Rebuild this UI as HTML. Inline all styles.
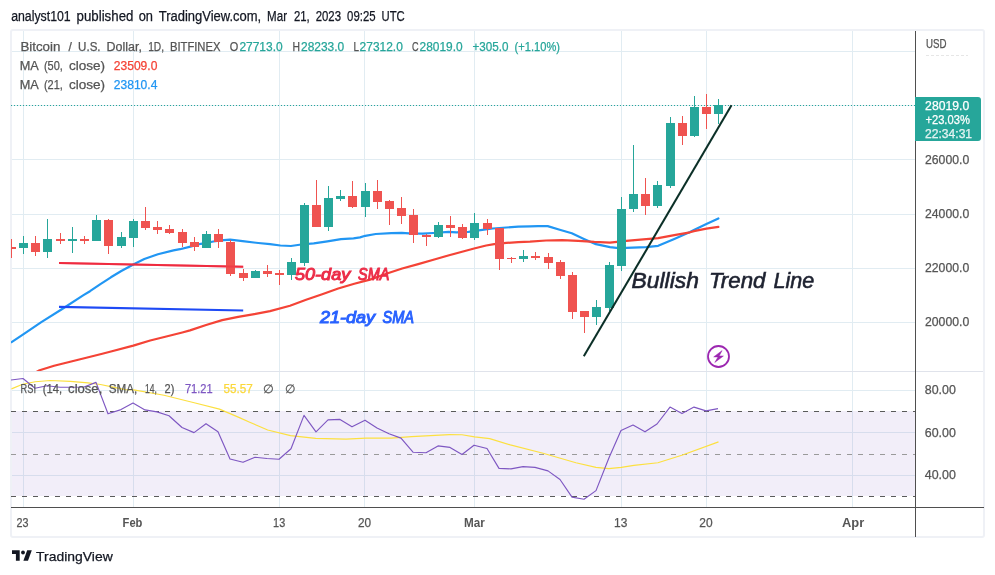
<!DOCTYPE html>
<html lang="en"><head><meta charset="utf-8"><title>BTCUSD chart - TradingView</title>
<style>
html,body{margin:0;padding:0;background:#fff;}
#page{position:relative;width:995px;height:575px;overflow:hidden;background:#fff;font-family:"Liberation Sans",sans-serif;}
svg{position:absolute;left:0;top:0;display:block}
text{font-family:"Liberation Sans",sans-serif;}
.crisp{shape-rendering:crispEdges}
</style></head><body>
<div id="page">
<svg width="995" height="575" viewBox="0 0 995 575">
<rect x="11" y="30" width="973" height="507" rx="2" fill="#fff" stroke="#eff1f6" stroke-width="2"/>
<defs><clipPath id="main"><rect x="11" y="31" width="904" height="340"/></clipPath>
<clipPath id="rsi"><rect x="11" y="372" width="904" height="135"/></clipPath></defs>
<g class="crisp" fill="#e1ecf2">
<rect x="23" y="31" width="1" height="476"/>
<rect x="133" y="31" width="1" height="476"/>
<rect x="279" y="31" width="1" height="476"/>
<rect x="364" y="31" width="1" height="476"/>
<rect x="474" y="31" width="1" height="476"/>
<rect x="621" y="31" width="1" height="476"/>
<rect x="706" y="31" width="1" height="476"/>
<rect x="852" y="31" width="1" height="476"/>
<rect x="12" y="51" width="903" height="1"/>
<rect x="12" y="105" width="903" height="1"/>
<rect x="12" y="159" width="903" height="1"/>
<rect x="12" y="214" width="903" height="1"/>
<rect x="12" y="268" width="903" height="1"/>
<rect x="12" y="322" width="903" height="1"/>
<rect x="12" y="390" width="903" height="1"/>
<rect x="12" y="432" width="903" height="1"/>
<rect x="12" y="475" width="903" height="1"/>
</g>
<rect x="12" y="371" width="971" height="1" fill="#e0e3eb" class="crisp"/>
<rect x="12" y="411" width="903" height="85" fill="#7e57c2" fill-opacity="0.1" class="crisp"/>
<g fill="none" stroke-width="1" class="crisp">
<line x1="11" y1="411.5" x2="915" y2="411.5" stroke="#5a5a5a" stroke-dasharray="5 6"/>
<line x1="11" y1="454.5" x2="915" y2="454.5" stroke="#9a9a9a" stroke-dasharray="5 6"/>
<line x1="11" y1="496.5" x2="915" y2="496.5" stroke="#5a5a5a" stroke-dasharray="5 6"/>
</g>
<g clip-path="url(#main)">
<line x1="11" y1="105.5" x2="915" y2="105.5" stroke="#26a69a" stroke-width="1" stroke-dasharray="1 2" class="crisp"/>
<path d="M11.6 342.2 L23.6 334.1 L41.3 322.1 L62.2 309.0 L83.1 295.4 L90.0 291.2 L100.4 284.1 L110.9 277.3 L121.3 271.0 L133.8 264.2 L144.3 259.0 L157.9 254.3 L173.5 250.4 L180.0 249.2 L190.4 246.6 L200.9 243.8 L213.4 241.5 L223.8 240.1 L230.1 239.6 L242.6 241.2 L258.3 243.0 L270.0 244.2 L280.4 245.5 L290.9 246.0 L301.3 244.5 L313.8 243.4 L327.4 241.3 L341.0 239.2 L353.5 238.3 L360.0 237.4 L365.2 235.8 L375.7 234.0 L391.3 233.2 L401.8 232.9 L409.1 233.4 L422.6 233.7 L433.1 233.0 L448.7 231.9 L456.4 232.4 L468.5 231.8 L480.5 230.1 L492.6 228.5 L506.3 227.5 L518.3 226.7 L530.0 226.4 L538.0 226.1 L547.7 226.1 L559.7 229.7 L571.8 233.3 L583.9 238.9 L595.9 244.2 L610.0 247.2 L616.4 247.8 L626.1 247.8 L646.2 247.1 L658.2 245.8 L674.3 238.9 L690.0 231.9 L693.9 230.0 L706.4 224.1 L718.4 218.4" fill="none" stroke="#2196f3" stroke-width="2.2" stroke-linejoin="round" stroke-linecap="round"/>
<path d="M36.0 372.2 L39.6 370.2 L54.1 365.8 L70.2 361.8 L86.3 357.7 L102.3 353.7 L110.0 351.8 L133.3 345.6 L150.2 340.5 L166.3 336.5 L182.3 332.5 L190.0 330.4 L206.1 325.0 L222.2 320.1 L238.2 316.9 L254.3 314.1 L270.0 311.1 L290.0 305.8 L306.1 299.8 L322.2 294.2 L338.2 288.5 L354.3 283.7 L370.0 279.6 L388.5 273.0 L402.2 268.5 L418.2 264.1 L434.3 259.5 L450.0 255.0 L462.1 251.8 L474.1 248.5 L486.2 245.5 L494.2 244.1 L506.3 242.9 L518.3 242.1 L530.0 241.7 L546.1 240.5 L562.2 240.1 L578.2 240.8 L594.3 241.9 L610.0 242.6 L626.1 240.9 L646.2 239.1 L658.2 238.1 L674.3 235.1 L690.0 232.3 L693.9 231.1 L706.4 228.6 L718.4 226.8" fill="none" stroke="#f44336" stroke-width="2.2" stroke-linejoin="round" stroke-linecap="round"/>
<line x1="59" y1="263.1" x2="243.2" y2="266.8" stroke="#ef2b40" stroke-width="2"/>
<g class="crisp">
<rect x="11" y="239" width="1" height="19" fill="#ef5350"/>
<rect x="7" y="247" width="9" height="2" fill="#ef5350"/>
<rect x="23" y="236" width="1" height="18" fill="#26a69a"/>
<rect x="19" y="243" width="9" height="5" fill="#26a69a"/>
<rect x="35" y="236" width="1" height="20" fill="#ef5350"/>
<rect x="31" y="243" width="9" height="9" fill="#ef5350"/>
<rect x="47" y="219" width="1" height="39" fill="#26a69a"/>
<rect x="43" y="239" width="9" height="13" fill="#26a69a"/>
<rect x="60" y="233" width="1" height="11" fill="#ef5350"/>
<rect x="56" y="239" width="9" height="2" fill="#ef5350"/>
<rect x="72" y="227" width="1" height="26" fill="#26a69a"/>
<rect x="68" y="239" width="9" height="2" fill="#26a69a"/>
<rect x="84" y="236" width="1" height="8" fill="#ef5350"/>
<rect x="80" y="239" width="9" height="2" fill="#ef5350"/>
<rect x="96" y="215" width="1" height="26" fill="#26a69a"/>
<rect x="92" y="220" width="9" height="21" fill="#26a69a"/>
<rect x="108" y="219" width="1" height="35" fill="#ef5350"/>
<rect x="104" y="220" width="9" height="26" fill="#ef5350"/>
<rect x="121" y="232" width="1" height="16" fill="#26a69a"/>
<rect x="117" y="237" width="9" height="9" fill="#26a69a"/>
<rect x="133" y="219" width="1" height="28" fill="#26a69a"/>
<rect x="129" y="221" width="9" height="17" fill="#26a69a"/>
<rect x="145" y="207" width="1" height="23" fill="#ef5350"/>
<rect x="141" y="221" width="9" height="7" fill="#ef5350"/>
<rect x="157" y="221" width="1" height="13" fill="#ef5350"/>
<rect x="153" y="227" width="9" height="3" fill="#ef5350"/>
<rect x="169" y="225" width="1" height="9" fill="#ef5350"/>
<rect x="165" y="229" width="9" height="4" fill="#ef5350"/>
<rect x="182" y="229" width="1" height="18" fill="#ef5350"/>
<rect x="178" y="232" width="9" height="11" fill="#ef5350"/>
<rect x="194" y="237" width="1" height="14" fill="#ef5350"/>
<rect x="190" y="242" width="9" height="5" fill="#ef5350"/>
<rect x="206" y="231" width="1" height="17" fill="#26a69a"/>
<rect x="202" y="234" width="9" height="14" fill="#26a69a"/>
<rect x="218" y="229" width="1" height="19" fill="#ef5350"/>
<rect x="214" y="234" width="9" height="8" fill="#ef5350"/>
<rect x="230" y="240" width="1" height="36" fill="#ef5350"/>
<rect x="226" y="242" width="9" height="32" fill="#ef5350"/>
<rect x="243" y="269" width="1" height="12" fill="#ef5350"/>
<rect x="239" y="273" width="9" height="5" fill="#ef5350"/>
<rect x="255" y="270" width="1" height="8" fill="#26a69a"/>
<rect x="251" y="271" width="9" height="7" fill="#26a69a"/>
<rect x="267" y="265" width="1" height="12" fill="#ef5350"/>
<rect x="263" y="271" width="9" height="3" fill="#ef5350"/>
<rect x="279" y="270" width="1" height="15" fill="#ef5350"/>
<rect x="275" y="273" width="9" height="2" fill="#ef5350"/>
<rect x="291" y="258" width="1" height="22" fill="#26a69a"/>
<rect x="287" y="262" width="9" height="13" fill="#26a69a"/>
<rect x="304" y="203" width="1" height="63" fill="#26a69a"/>
<rect x="300" y="205" width="9" height="58" fill="#26a69a"/>
<rect x="316" y="180" width="1" height="47" fill="#ef5350"/>
<rect x="312" y="205" width="9" height="22" fill="#ef5350"/>
<rect x="328" y="186" width="1" height="45" fill="#26a69a"/>
<rect x="324" y="198" width="9" height="29" fill="#26a69a"/>
<rect x="340" y="190" width="1" height="11" fill="#26a69a"/>
<rect x="336" y="196" width="9" height="3" fill="#26a69a"/>
<rect x="352" y="181" width="1" height="27" fill="#ef5350"/>
<rect x="348" y="196" width="9" height="11" fill="#ef5350"/>
<rect x="365" y="183" width="1" height="34" fill="#26a69a"/>
<rect x="361" y="191" width="9" height="16" fill="#26a69a"/>
<rect x="377" y="180" width="1" height="29" fill="#ef5350"/>
<rect x="373" y="191" width="9" height="11" fill="#ef5350"/>
<rect x="389" y="200" width="1" height="25" fill="#ef5350"/>
<rect x="385" y="201" width="9" height="8" fill="#ef5350"/>
<rect x="401" y="197" width="1" height="27" fill="#ef5350"/>
<rect x="397" y="208" width="9" height="8" fill="#ef5350"/>
<rect x="413" y="209" width="1" height="34" fill="#ef5350"/>
<rect x="409" y="215" width="9" height="20" fill="#ef5350"/>
<rect x="426" y="234" width="1" height="12" fill="#ef5350"/>
<rect x="422" y="235" width="9" height="2" fill="#ef5350"/>
<rect x="438" y="222" width="1" height="16" fill="#26a69a"/>
<rect x="434" y="225" width="9" height="12" fill="#26a69a"/>
<rect x="450" y="216" width="1" height="21" fill="#ef5350"/>
<rect x="446" y="225" width="9" height="3" fill="#ef5350"/>
<rect x="462" y="224" width="1" height="15" fill="#ef5350"/>
<rect x="458" y="227" width="9" height="11" fill="#ef5350"/>
<rect x="474" y="213" width="1" height="27" fill="#26a69a"/>
<rect x="470" y="223" width="9" height="15" fill="#26a69a"/>
<rect x="487" y="219" width="1" height="16" fill="#ef5350"/>
<rect x="483" y="223" width="9" height="6" fill="#ef5350"/>
<rect x="499" y="228" width="1" height="42" fill="#ef5350"/>
<rect x="495" y="228" width="9" height="31" fill="#ef5350"/>
<rect x="511" y="257" width="1" height="6" fill="#ef5350"/>
<rect x="507" y="258" width="9" height="1" fill="#ef5350"/>
<rect x="523" y="250" width="1" height="12" fill="#26a69a"/>
<rect x="519" y="256" width="9" height="3" fill="#26a69a"/>
<rect x="535" y="252" width="1" height="8" fill="#ef5350"/>
<rect x="531" y="256" width="9" height="2" fill="#ef5350"/>
<rect x="548" y="253" width="1" height="16" fill="#ef5350"/>
<rect x="544" y="257" width="9" height="6" fill="#ef5350"/>
<rect x="560" y="260" width="1" height="19" fill="#ef5350"/>
<rect x="556" y="262" width="9" height="14" fill="#ef5350"/>
<rect x="572" y="272" width="1" height="47" fill="#ef5350"/>
<rect x="568" y="275" width="9" height="37" fill="#ef5350"/>
<rect x="584" y="311" width="1" height="22" fill="#ef5350"/>
<rect x="580" y="311" width="9" height="6" fill="#ef5350"/>
<rect x="596" y="300" width="1" height="25" fill="#26a69a"/>
<rect x="592" y="307" width="9" height="10" fill="#26a69a"/>
<rect x="609" y="262" width="1" height="49" fill="#26a69a"/>
<rect x="605" y="265" width="9" height="43" fill="#26a69a"/>
<rect x="621" y="197" width="1" height="74" fill="#26a69a"/>
<rect x="617" y="209" width="9" height="57" fill="#26a69a"/>
<rect x="633" y="145" width="1" height="67" fill="#26a69a"/>
<rect x="629" y="194" width="9" height="15" fill="#26a69a"/>
<rect x="645" y="178" width="1" height="37" fill="#ef5350"/>
<rect x="641" y="194" width="9" height="12" fill="#ef5350"/>
<rect x="657" y="181" width="1" height="27" fill="#26a69a"/>
<rect x="653" y="185" width="9" height="21" fill="#26a69a"/>
<rect x="670" y="117" width="1" height="71" fill="#26a69a"/>
<rect x="666" y="123" width="9" height="63" fill="#26a69a"/>
<rect x="682" y="116" width="1" height="29" fill="#ef5350"/>
<rect x="678" y="123" width="9" height="13" fill="#ef5350"/>
<rect x="694" y="96" width="1" height="41" fill="#26a69a"/>
<rect x="690" y="107" width="9" height="29" fill="#26a69a"/>
<rect x="706" y="94" width="1" height="35" fill="#ef5350"/>
<rect x="702" y="107" width="9" height="7" fill="#ef5350"/>
<rect x="718" y="99" width="1" height="25" fill="#26a69a"/>
<rect x="714" y="105" width="9" height="9" fill="#26a69a"/>
</g>
<line x1="59" y1="263.1" x2="243.2" y2="266.8" stroke="#ef2b40" stroke-width="2" stroke-opacity="0.55"/>
<line x1="59" y1="306.9" x2="243.2" y2="310.5" stroke="#1e4af5" stroke-width="2.1"/>
<line x1="583.8" y1="356.3" x2="731.5" y2="105.3" stroke="#0b2f27" stroke-width="2.05"/>
</g>
<g clip-path="url(#rsi)">
<path d="M11.5 388.9 L22.6 384.2 L35.2 381.7 L50.3 380.5 L70.4 381.4 L88.0 382.9 L100.5 384.5 L113.0 387.1 L125.0 389.6 L133.7 389.9 L164.0 395.2 L194.2 402.8 L219.5 409.1 L240.0 417.9 L249.7 422.3 L267.7 430.0 L290.5 435.6 L315.7 438.4 L346.0 439.1 L366.1 438.1 L391.4 438.1 L411.5 436.6 L449.4 434.6 L462.0 434.8 L474.6 436.9 L489.7 438.6 L510.3 444.9 L543.1 453.2 L575.9 462.8 L596.0 467.4 L608.7 468.6 L621.3 467.4 L633.9 465.4 L657.9 462.8 L681.8 455.3 L718.5 441.9" fill="none" stroke="#fce040" stroke-width="1.15" stroke-linejoin="round"/>
<path d="M11.0 380.0 L23.0 378.5 L35.0 388.3 L47.0 385.8 L60.0 387.3 L72.0 387.2 L84.0 387.0 L96.0 382.4 L108.0 413.8 L121.0 409.6 L133.0 403.0 L145.0 409.9 L157.0 411.9 L169.0 415.7 L182.0 427.5 L194.0 432.6 L206.0 423.7 L218.0 431.8 L230.0 459.0 L243.0 462.3 L255.0 457.3 L267.0 458.5 L279.0 459.3 L291.0 448.7 L304.0 415.4 L316.0 431.8 L328.0 419.9 L340.0 419.4 L352.0 426.8 L365.0 420.2 L377.0 428.0 L389.0 433.8 L401.0 438.1 L413.0 452.2 L426.0 452.7 L438.0 445.9 L450.0 447.4 L462.0 454.5 L474.0 445.2 L487.0 448.5 L499.0 468.4 L511.0 468.9 L523.0 466.6 L535.0 467.4 L548.0 470.9 L560.0 479.5 L572.0 497.1 L584.0 499.2 L596.0 490.6 L609.0 457.8 L621.0 430.5 L633.0 425.0 L645.0 431.8 L657.0 424.0 L670.0 407.1 L682.0 413.6 L694.0 407.1 L706.0 410.9 L718.0 408.6" fill="none" stroke="#7e57c2" stroke-width="1.15" stroke-linejoin="round"/>
</g>
<g><circle cx="718.5" cy="356.5" r="10.5" fill="#fff" stroke="#9c27b0" stroke-width="1.8"/>
<polygon points="722.1,350.6 713.7,356.9 718.0,357.0 714.8,362.4 723.4,356.0 719.2,355.9" fill="#9c27b0" stroke="#9c27b0" stroke-width="0.5" stroke-linejoin="round"/></g>
<g class="crisp" fill="#4f4f4f">
<rect x="915" y="31" width="1" height="506"/>
<rect x="11" y="507" width="973" height="1"/>
</g>
<path d="M915 97 H978 a3 3 0 0 1 3 3 V138 a3 3 0 0 1 -3 3 H915 Z" fill="#26a69a"/>
<text y="20.5" font-size="14" fill="#131722" stroke="#131722" stroke-width="0.25"><tspan x="11.2" textLength="59.5" lengthAdjust="spacingAndGlyphs">analyst101</tspan> <tspan x="76.6" textLength="56.8" lengthAdjust="spacingAndGlyphs">published</tspan> <tspan x="138.7" textLength="14.3" lengthAdjust="spacingAndGlyphs">on</tspan> <tspan x="158.7" textLength="102.5" lengthAdjust="spacingAndGlyphs">TradingView.com,</tspan> <tspan x="267.1" textLength="19.9" lengthAdjust="spacingAndGlyphs">Mar</tspan> <tspan x="293.9" textLength="15.8" lengthAdjust="spacingAndGlyphs">21,</tspan> <tspan x="315.7" textLength="25.3" lengthAdjust="spacingAndGlyphs">2023</tspan> <tspan x="347.1" textLength="28.5" lengthAdjust="spacingAndGlyphs">09:25</tspan> <tspan x="381.5" textLength="23.2" lengthAdjust="spacingAndGlyphs">UTC</tspan></text>
<text y="50.5" font-size="12" fill="#555555" stroke="#555555" stroke-width="0.25"><tspan x="20.4" textLength="40.0" lengthAdjust="spacingAndGlyphs">Bitcoin</tspan> <tspan x="68.6">/</tspan> <tspan x="78.1" textLength="22.5" lengthAdjust="spacingAndGlyphs">U.S.</tspan> <tspan x="106.6" textLength="35.4" lengthAdjust="spacingAndGlyphs">Dollar,</tspan> <tspan x="148.2" textLength="15.9" lengthAdjust="spacingAndGlyphs">1D,</tspan> <tspan x="169.9" textLength="50.6" lengthAdjust="spacingAndGlyphs">BITFINEX</tspan></text>
<text x="229.7" y="50.5" font-size="12" fill="#555555" stroke="#555555" stroke-width="0.25" textLength="8.5" lengthAdjust="spacingAndGlyphs" >O</text>
<text x="239.4" y="50.5" font-size="12" fill="#26a69a" stroke="#26a69a" stroke-width="0.25" textLength="43.3" lengthAdjust="spacingAndGlyphs" >27713.0</text>
<text x="292.4" y="50.5" font-size="12" fill="#555555" stroke="#555555" stroke-width="0.25" textLength="7.5" lengthAdjust="spacingAndGlyphs" >H</text>
<text x="301" y="50.5" font-size="12" fill="#26a69a" stroke="#26a69a" stroke-width="0.25" textLength="43.2" lengthAdjust="spacingAndGlyphs" >28233.0</text>
<text x="353.4" y="50.5" font-size="12" fill="#555555" stroke="#555555" stroke-width="0.25" textLength="5.5" lengthAdjust="spacingAndGlyphs" >L</text>
<text x="359.6" y="50.5" font-size="12" fill="#26a69a" stroke="#26a69a" stroke-width="0.25" textLength="43.2" lengthAdjust="spacingAndGlyphs" >27312.0</text>
<text x="412.1" y="50.5" font-size="12" fill="#555555" stroke="#555555" stroke-width="0.25" textLength="6.6" lengthAdjust="spacingAndGlyphs" >C</text>
<text x="419.6" y="50.5" font-size="12" fill="#26a69a" stroke="#26a69a" stroke-width="0.25" textLength="43.1" lengthAdjust="spacingAndGlyphs" >28019.0</text>
<text x="472.4" y="50.5" font-size="12" fill="#26a69a" stroke="#26a69a" stroke-width="0.25" textLength="36" lengthAdjust="spacingAndGlyphs" >+305.0</text>
<text x="514.6" y="50.5" font-size="12" fill="#26a69a" stroke="#26a69a" stroke-width="0.25" textLength="45.4" lengthAdjust="spacingAndGlyphs" >(+1.10%)</text>
<text y="69.5" font-size="12" fill="#555555" stroke="#555555" stroke-width="0.25"><tspan x="19.7" textLength="18.4" lengthAdjust="spacingAndGlyphs">MA</tspan> <tspan x="43.9" textLength="18.9" lengthAdjust="spacingAndGlyphs">(50,</tspan> <tspan x="68.9" textLength="36.1" lengthAdjust="spacingAndGlyphs">close)</tspan></text>
<text x="113.8" y="69.5" font-size="12" fill="#f44336" stroke="#f44336" stroke-width="0.25" textLength="43.6" lengthAdjust="spacingAndGlyphs" >23509.0</text>
<text y="88.5" font-size="12" fill="#555555" stroke="#555555" stroke-width="0.25"><tspan x="19.7" textLength="18.4" lengthAdjust="spacingAndGlyphs">MA</tspan> <tspan x="43.9" textLength="18.9" lengthAdjust="spacingAndGlyphs">(21,</tspan> <tspan x="68.9" textLength="36.1" lengthAdjust="spacingAndGlyphs">close)</tspan></text>
<text x="113.8" y="88.5" font-size="12" fill="#2196f3" stroke="#2196f3" stroke-width="0.25" textLength="43.6" lengthAdjust="spacingAndGlyphs" >23810.4</text>
<text y="392.5" font-size="12" fill="#555555" stroke="#555555" stroke-width="0.25"><tspan x="20.6" textLength="15.4" lengthAdjust="spacingAndGlyphs">RSI</tspan> <tspan x="42.8" textLength="19.3" lengthAdjust="spacingAndGlyphs">(14,</tspan> <tspan x="68.1" textLength="34.2" lengthAdjust="spacingAndGlyphs">close,</tspan> <tspan x="108.8" textLength="28.5" lengthAdjust="spacingAndGlyphs">SMA,</tspan> <tspan x="145.0" textLength="11.9" lengthAdjust="spacingAndGlyphs">14,</tspan> <tspan x="164.6" textLength="9.8" lengthAdjust="spacingAndGlyphs">2)</tspan></text>
<text x="184.9" y="392.5" font-size="12" fill="#7e57c2" stroke="#7e57c2" stroke-width="0.25" textLength="27.7" lengthAdjust="spacingAndGlyphs" >71.21</text>
<text x="223.4" y="392.5" font-size="12" fill="#fbd83c" stroke="#fbd83c" stroke-width="0.25" textLength="29.3" lengthAdjust="spacingAndGlyphs" >55.57</text>
<text x="262.6" y="392.5" font-size="12" fill="#555555" stroke="#555555" stroke-width="0.25" textLength="10.3" lengthAdjust="spacingAndGlyphs" >∅</text>
<text x="285" y="392.5" font-size="12" fill="#555555" stroke="#555555" stroke-width="0.25" textLength="10" lengthAdjust="spacingAndGlyphs" >∅</text>
<text x="926" y="47.6" font-size="12" fill="#555555" stroke="#555555" stroke-width="0.25" textLength="20.5" lengthAdjust="spacingAndGlyphs" >USD</text>
<line x1="926" y1="55.5" x2="968" y2="55.5" stroke="#e6e6e6" stroke-width="1" stroke-dasharray="3 2"/>
<text x="925" y="163.8" font-size="12" fill="#555555" stroke="#555555" stroke-width="0.25" textLength="44.2" lengthAdjust="spacingAndGlyphs" >26000.0</text>
<text x="925" y="217.9" font-size="12" fill="#555555" stroke="#555555" stroke-width="0.25" textLength="44.2" lengthAdjust="spacingAndGlyphs" >24000.0</text>
<text x="925" y="272" font-size="12" fill="#555555" stroke="#555555" stroke-width="0.25" textLength="44.2" lengthAdjust="spacingAndGlyphs" >22000.0</text>
<text x="925" y="326.2" font-size="12" fill="#555555" stroke="#555555" stroke-width="0.25" textLength="44.2" lengthAdjust="spacingAndGlyphs" >20000.0</text>
<text x="924.8" y="393.7" font-size="12" fill="#555555" stroke="#555555" stroke-width="0.25" textLength="31.1" lengthAdjust="spacingAndGlyphs" >80.00</text>
<text x="924.8" y="436.6" font-size="12" fill="#555555" stroke="#555555" stroke-width="0.25" textLength="31.1" lengthAdjust="spacingAndGlyphs" >60.00</text>
<text x="924.8" y="478.9" font-size="12" fill="#555555" stroke="#555555" stroke-width="0.25" textLength="31.1" lengthAdjust="spacingAndGlyphs" >40.00</text>
<text x="925.1" y="109.7" font-size="12" fill="#fff" stroke="#fff" stroke-width="0.25" textLength="44.1" lengthAdjust="spacingAndGlyphs" >28019.0</text>
<text x="925.4" y="123.9" font-size="12" fill="#fff" stroke="#fff" stroke-width="0.25" textLength="44.5" lengthAdjust="spacingAndGlyphs" >+23.03%</text>
<text x="925" y="137.5" font-size="12" fill="#fff" stroke="#fff" stroke-width="0.25" textLength="47.1" lengthAdjust="spacingAndGlyphs" fill-opacity="0.8">22:34:31</text>
<text x="16.6" y="526.8" font-size="12" fill="#555555" stroke="#555555" stroke-width="0.25" textLength="12" lengthAdjust="spacingAndGlyphs" >23</text>
<text x="122.6" y="526.8" font-size="12" fill="#555555" stroke="#555555" stroke-width="0" textLength="19.8" lengthAdjust="spacingAndGlyphs" font-weight="bold" >Feb</text>
<text x="273.1" y="526.8" font-size="12" fill="#555555" stroke="#555555" stroke-width="0.25" textLength="12.1" lengthAdjust="spacingAndGlyphs" >13</text>
<text x="358" y="526.8" font-size="12" fill="#555555" stroke="#555555" stroke-width="0.25" textLength="13.1" lengthAdjust="spacingAndGlyphs" >20</text>
<text x="464.1" y="526.8" font-size="12" fill="#555555" stroke="#555555" stroke-width="0" textLength="20.8" lengthAdjust="spacingAndGlyphs" font-weight="bold" >Mar</text>
<text x="614.1" y="526.8" font-size="12" fill="#555555" stroke="#555555" stroke-width="0.25" textLength="13.3" lengthAdjust="spacingAndGlyphs" >13</text>
<text x="699.3" y="526.8" font-size="12" fill="#555555" stroke="#555555" stroke-width="0.25" textLength="13.3" lengthAdjust="spacingAndGlyphs" >20</text>
<text x="842" y="526.8" font-size="12" fill="#555555" stroke="#555555" stroke-width="0" textLength="22.2" lengthAdjust="spacingAndGlyphs" font-weight="bold" >Apr</text>
<text y="279.6" font-size="16.5" fill="#ec2d48" stroke="#ec2d48" stroke-width="1.0" font-style="italic"><tspan x="295.0" textLength="55.2" lengthAdjust="spacingAndGlyphs">50-day</tspan> <tspan x="358.1" textLength="31.2" lengthAdjust="spacingAndGlyphs">SMA</tspan></text>
<text y="322.5" font-size="16.5" fill="#2962ff" stroke="#2962ff" stroke-width="1.0" font-style="italic"><tspan x="320.0" textLength="55.0" lengthAdjust="spacingAndGlyphs">21-day</tspan> <tspan x="382.5" textLength="31.5" lengthAdjust="spacingAndGlyphs">SMA</tspan></text>
<text y="287.7" font-size="22" fill="#1e2230" stroke="#1e2230" stroke-width="0.6" font-style="italic"><tspan x="631.6" textLength="67.3" lengthAdjust="spacingAndGlyphs">Bullish</tspan> <tspan x="708.9" textLength="56.6" lengthAdjust="spacingAndGlyphs">Trend</tspan> <tspan x="773.5" textLength="40.7" lengthAdjust="spacingAndGlyphs">Line</tspan></text>
<g fill="#131722"><path d="M12 550.3 H19.7 V560.7 H15.9 V553.9 H12 Z"/><circle cx="23" cy="552.5" r="1.9"/><path d="M27.2 550.3 H31.8 L28 560.7 H23.4 Z"/></g>
<text x="36.1" y="560.7" font-size="13.4" fill="#131722" stroke="#131722" stroke-width="0.25" textLength="76.6" lengthAdjust="spacingAndGlyphs" >TradingView</text>
</svg></div></body></html>
